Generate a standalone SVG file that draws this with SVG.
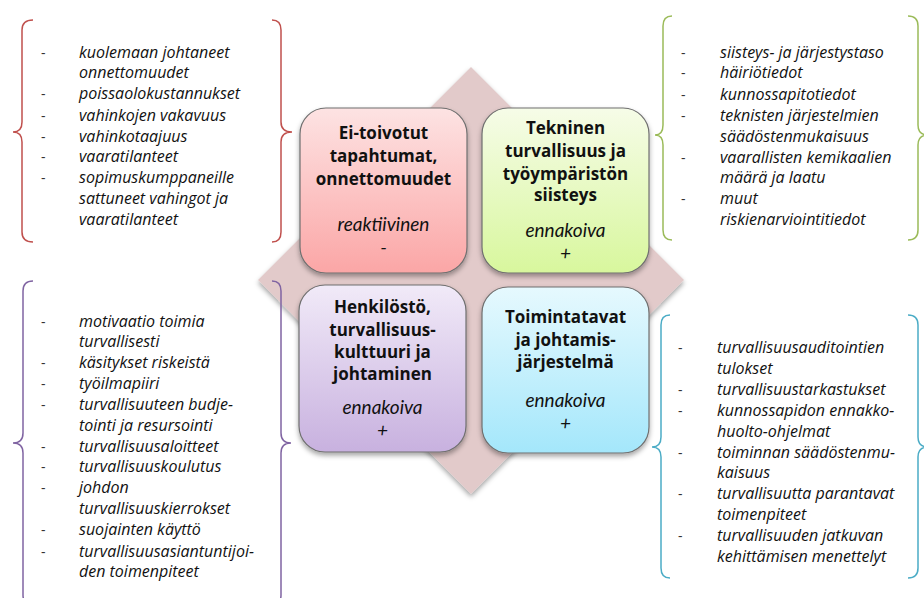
<svg xmlns="http://www.w3.org/2000/svg" width="924" height="598" viewBox="0 0 924 598">
  <defs>
    <linearGradient id="gRed" x1="0" y1="0" x2="0" y2="1">
      <stop offset="0" stop-color="#fde3e3"/>
      <stop offset="1" stop-color="#fba6a6"/>
    </linearGradient>
    <linearGradient id="gGreen" x1="0" y1="0" x2="0" y2="1">
      <stop offset="0" stop-color="#f6fce8"/>
      <stop offset="1" stop-color="#d8f79d"/>
    </linearGradient>
    <linearGradient id="gPurple" x1="0" y1="0" x2="0" y2="1">
      <stop offset="0" stop-color="#f1eaf8"/>
      <stop offset="1" stop-color="#c8b1df"/>
    </linearGradient>
    <linearGradient id="gBlue" x1="0" y1="0" x2="0" y2="1">
      <stop offset="0" stop-color="#e6f9fe"/>
      <stop offset="1" stop-color="#a4e7fb"/>
    </linearGradient>
    <filter id="shadow" x="-20%" y="-20%" width="140%" height="140%">
      <feDropShadow dx="0" dy="3" stdDeviation="2.5" flood-color="#000" flood-opacity="0.35"/>
    </filter>
  </defs>
  <style>
    .box { stroke: #6f6f6f; stroke-width: 1.2; filter: url(#shadow); }
    .title { font-family: "Open Sans", "Noto Sans", "Liberation Sans", sans-serif; font-weight: bold; font-size: 17px; fill: #111; text-anchor: middle; }
    .sub { font-family: Lato, "Open Sans", "Liberation Sans", sans-serif; font-style: italic; font-size: 19px; fill: #111; text-anchor: middle; }
    .item { font-family: "Open Sans", "Noto Sans", "Liberation Sans", sans-serif; font-style: italic; font-size: 16px; fill: #111; }
    .dash { font-family: "Open Sans", "Noto Sans", "Liberation Sans", sans-serif; font-size: 14px; fill: #333; }
    .brace { fill: none; stroke-width: 1.5; }
  </style>
  <rect width="924" height="598" fill="#ffffff"/>

  <!-- background diamond -->
  <polygon id="diamond" points="471,67 684,280 471,494 258,280" fill="#e2caca" filter="url(#shadow)"/>

  <!-- quadrant boxes -->
  <g id="box-reactive">
    <rect class="box" x="300" y="108" width="167" height="165" rx="26" fill="url(#gRed)"/>
    <text class="title" x="383.5" y="139">Ei-toivotut</text>
    <text class="title" x="383.5" y="162">tapahtumat,</text>
    <text class="title" x="383.5" y="185">onnettomuudet</text>
    <text class="sub" x="383.5" y="231">reaktiivinen</text>
    <text class="sub" x="383.5" y="254">-</text>
  </g>
  <g id="box-technical">
    <rect class="box" x="482" y="108" width="167" height="165" rx="26" fill="url(#gGreen)"/>
    <text class="title" x="565.5" y="134">Tekninen</text>
    <text class="title" x="565.5" y="157">turvallisuus ja</text>
    <text class="title" x="565.5" y="180">työympäristön</text>
    <text class="title" x="565.5" y="201">siisteys</text>
    <text class="sub" x="565.5" y="237">ennakoiva</text>
    <text class="sub" x="565.5" y="260">+</text>
  </g>
  <g id="box-personnel">
    <rect class="box" x="299" y="285" width="167" height="167" rx="26" fill="url(#gPurple)"/>
    <text class="title" x="382.5" y="313">Henkilöstö,</text>
    <text class="title" x="382.5" y="336">turvallisuus-</text>
    <text class="title" x="382.5" y="358">kulttuuri ja</text>
    <text class="title" x="382.5" y="380">johtaminen</text>
    <text class="sub" x="382.5" y="414">ennakoiva</text>
    <text class="sub" x="382.5" y="437">+</text>
  </g>
  <g id="box-practices">
    <rect class="box" x="482" y="287" width="167" height="166" rx="26" fill="url(#gBlue)"/>
    <text class="title" x="565.5" y="323">Toimintatavat</text>
    <text class="title" x="565.5" y="346">ja johtamis-</text>
    <text class="title" x="565.5" y="368">järjestelmä</text>
    <text class="sub" x="565.5" y="407">ennakoiva</text>
    <text class="sub" x="565.5" y="430">+</text>
  </g>

  <!-- braces -->
  <g id="braces">
    <path class="brace" stroke="#c0504d" d="M33,20 Q22,20 22,30 L22,122 Q22,132 13,132 Q22,132 22,142 L22,232 Q22,242 33,242"/>
    <path class="brace" stroke="#c0504d" d="M272,20 Q281,20 281,30 L281,122 Q281,132 292,132 Q281,132 281,142 L281,232 Q281,242 272,242"/>
    <path class="brace" stroke="#9bbb59" d="M672,16 Q663,16 663,26 L663,125 Q663,135 655,135 Q663,135 663,145 L663,230 Q663,240 672,240"/>
    <path class="brace" stroke="#9bbb59" d="M908,16 Q918,16 918,26 L918,125 Q918,135 928,135 Q918,135 918,145 L918,230 Q918,240 908,240"/>
    <path class="brace" stroke="#8064a2" d="M33,281 Q23,281 23,291 L23,433 Q23,443 13,443 Q23,443 23,453 L23,595 Q23,605 33,605"/>
    <path class="brace" stroke="#8064a2" d="M272,281 Q281,281 281,291 L281,433 Q281,443 291,443 Q281,443 281,453 L281,595 Q281,605 272,605"/>
    <path class="brace" stroke="#4bacc6" d="M670,315 Q661,315 661,325 L661,437 Q661,447 652,447 Q661,447 661,457 L661,568 Q661,578 670,578"/>
    <path class="brace" stroke="#4bacc6" d="M908,315 Q918,315 918,325 L918,437 Q918,447 928,447 Q918,447 918,457 L918,568 Q918,578 908,578"/>
  </g>

  <!-- list: unwanted events -->
  <g id="list-reactive">
    <text class="dash" x="41" y="58">-</text>
    <text class="item" x="79" y="58">kuolemaan johtaneet</text>
    <text class="item" x="79" y="78">onnettomuudet</text>
    <text class="dash" x="41" y="99">-</text>
    <text class="item" x="79" y="99">poissaolokustannukset</text>
    <text class="dash" x="41" y="121">-</text>
    <text class="item" x="79" y="121">vahinkojen vakavuus</text>
    <text class="dash" x="41" y="142">-</text>
    <text class="item" x="79" y="142">vahinkotaajuus</text>
    <text class="dash" x="41" y="162">-</text>
    <text class="item" x="79" y="162">vaaratilanteet</text>
    <text class="dash" x="41" y="183">-</text>
    <text class="item" x="79" y="183">sopimuskumppaneille</text>
    <text class="item" x="79" y="204">sattuneet vahingot ja</text>
    <text class="item" x="79" y="225">vaaratilanteet</text>
  </g>

  <!-- list: technical safety -->
  <g id="list-technical">
    <text class="dash" x="681" y="58">-</text>
    <text class="item" x="720" y="58">siisteys- ja järjestystaso</text>
    <text class="dash" x="681" y="78">-</text>
    <text class="item" x="720" y="78">häiriötiedot</text>
    <text class="dash" x="681" y="100">-</text>
    <text class="item" x="720" y="100">kunnossapitotiedot</text>
    <text class="dash" x="681" y="121">-</text>
    <text class="item" x="720" y="121">teknisten järjestelmien</text>
    <text class="item" x="720" y="142">säädöstenmukaisuus</text>
    <text class="dash" x="681" y="163">-</text>
    <text class="item" x="720" y="163">vaarallisten kemikaalien</text>
    <text class="item" x="720" y="183">määrä ja laatu</text>
    <text class="dash" x="681" y="204">-</text>
    <text class="item" x="720" y="204">muut</text>
    <text class="item" x="720" y="225">riskienarviointitiedot</text>
  </g>

  <!-- list: personnel and culture -->
  <g id="list-personnel">
    <text class="dash" x="41" y="327">-</text>
    <text class="item" x="79" y="327">motivaatio toimia</text>
    <text class="item" x="79" y="347">turvallisesti</text>
    <text class="dash" x="41" y="368">-</text>
    <text class="item" x="79" y="368">käsitykset riskeistä</text>
    <text class="dash" x="41" y="389">-</text>
    <text class="item" x="79" y="389">työilmapiiri</text>
    <text class="dash" x="41" y="410">-</text>
    <text class="item" x="79" y="410">turvallisuuteen budje-</text>
    <text class="item" x="79" y="431">tointi ja resursointi</text>
    <text class="dash" x="41" y="452">-</text>
    <text class="item" x="79" y="452">turvallisuusaloitteet</text>
    <text class="dash" x="41" y="472">-</text>
    <text class="item" x="79" y="472">turvallisuuskoulutus</text>
    <text class="dash" x="41" y="493">-</text>
    <text class="item" x="79" y="493">johdon</text>
    <text class="item" x="79" y="514">turvallisuuskierrokset</text>
    <text class="dash" x="41" y="535">-</text>
    <text class="item" x="79" y="535">suojainten käyttö</text>
    <text class="dash" x="41" y="557">-</text>
    <text class="item" x="79" y="557">turvallisuusasiantuntijoi-</text>
    <text class="item" x="79" y="577">den toimenpiteet</text>
  </g>

  <!-- list: practices and management system -->
  <g id="list-practices">
    <text class="dash" x="678" y="353">-</text>
    <text class="item" x="717" y="353">turvallisuusauditointien</text>
    <text class="item" x="717" y="374">tulokset</text>
    <text class="dash" x="678" y="395">-</text>
    <text class="item" x="717" y="395">turvallisuustarkastukset</text>
    <text class="dash" x="678" y="416">-</text>
    <text class="item" x="717" y="416">kunnossapidon ennakko-</text>
    <text class="item" x="717" y="437">huolto-ohjelmat</text>
    <text class="dash" x="678" y="458">-</text>
    <text class="item" x="717" y="458">toiminnan säädöstenmu-</text>
    <text class="item" x="717" y="478">kaisuus</text>
    <text class="dash" x="678" y="499">-</text>
    <text class="item" x="717" y="499">turvallisuutta parantavat</text>
    <text class="item" x="717" y="520">toimenpiteet</text>
    <text class="dash" x="678" y="541">-</text>
    <text class="item" x="717" y="541">turvallisuuden jatkuvan</text>
    <text class="item" x="717" y="562">kehittämisen menettelyt</text>
  </g>
</svg>
